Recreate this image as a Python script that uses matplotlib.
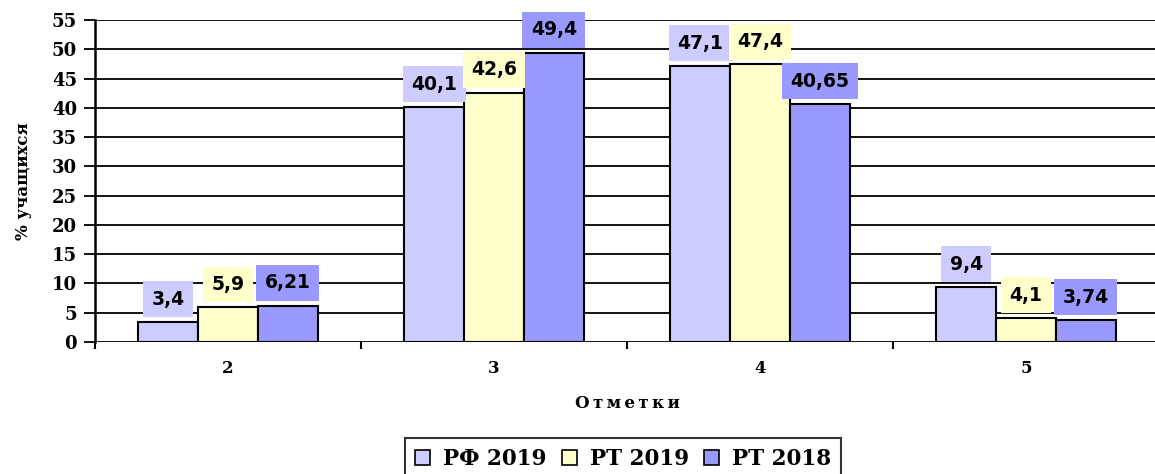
import matplotlib.pyplot as plt
import numpy as np

# data
marks = ['2', '3', '4', '5']
rf_2019 = [3.4, 40.1, 47.1, 9.4]
rt_2019 = [5.9, 42.6, 47.4, 4.1]
rt_2018 = [6.21, 49.4, 40.65, 3.74]
series_names = ['РФ 2019', 'РТ 2019', 'РТ 2018']
colors = ['#CCCCFF', '#FFFFCC', '#9999FF']

serif = ['DejaVu Serif']

fig = plt.figure(figsize=(11.55, 4.74), dpi=100)
ax = fig.add_axes([95 / 1155, 132 / 474, 1064 / 1155, 322 / 474])

x = np.arange(len(marks))
w = 0.225
for i, (vals, col) in enumerate(zip([rf_2019, rt_2019, rt_2018], colors)):
    b = ax.bar(x + (i - 1) * w, vals, w, color=col, edgecolor='black',
               linewidth=1.5, zorder=3, label=series_names[i])
    for rect, v in zip(b, vals):
        txt = ('%g' % v).replace('.', ',')
        ax.annotate(txt, (rect.get_x() + rect.get_width() / 2, v),
                    xytext=(0, 16.5), textcoords='offset points',
                    ha='center', va='center', fontsize=13.5, fontweight='bold',
                    family='DejaVu Sans', zorder=4,
                    bbox=dict(boxstyle='square,pad=0.45', fc=col, ec='none'))

ax.set_xlim(-0.5, 3.5)
ax.set_ylim(0, 55)
ax.set_yticks(range(0, 56, 5))
ax.yaxis.grid(True, color='black', linewidth=1.3, zorder=0)
ax.set_axisbelow(True)

ax.set_xticks(x)
ax.set_xticklabels(marks)
ax.set_xticks(np.arange(-0.5, 4.0, 1.0), minor=True)
ax.tick_params(axis='x', which='major', length=0, pad=13)
ax.tick_params(axis='x', which='minor', length=5, width=1.5, direction='out')
ax.tick_params(axis='y', length=8, width=1.3, pad=5)
for lab in ax.get_xticklabels():
    lab.set_family(serif)
    lab.set_fontweight('bold')
    lab.set_fontsize(12)
for lab in ax.get_yticklabels():
    lab.set_family(serif)
    lab.set_fontweight('bold')
    lab.set_fontsize(13)

for s in ['top', 'right', 'bottom']:
    ax.spines[s].set_visible(False)
ax.spines['left'].set_linewidth(1.8)

ax.set_ylabel('% учащихся', family=serif, fontweight='bold', fontsize=12, labelpad=14)
fig.text(627 / 1155, 1 - 403 / 474, '\u2009'.join('Отметки'),
         ha='center', va='center', family=serif, fontweight='bold', fontsize=12)

leg = fig.legend(loc='upper center', bbox_to_anchor=(623 / 1155, 1 - 438 / 474),
                 ncol=3, frameon=True, fancybox=False, edgecolor='black',
                 prop={'family': serif, 'weight': 'bold', 'size': 15.5},
                 handlelength=0.7, handleheight=0.7, handletextpad=0.6,
                 columnspacing=0.7, borderpad=0.45, borderaxespad=0)
leg.get_frame().set_linewidth(1.5)
for h in leg.legend_handles:
    h.set_linewidth(1.2)

fig.savefig('out.png', dpi=100)
